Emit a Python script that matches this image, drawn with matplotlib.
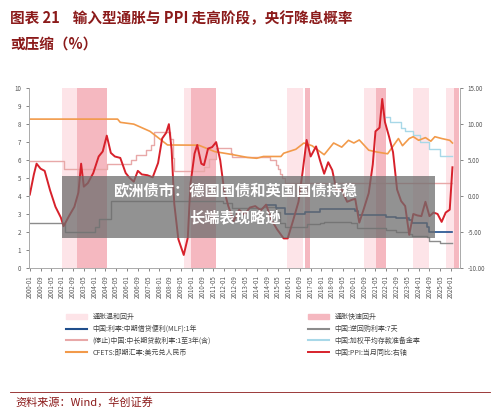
import matplotlib
matplotlib.use("Agg")
import matplotlib.pyplot as plt
from matplotlib.patches import Rectangle
import numpy as np

plt.rcParams['font.family'] = ['Noto Sans CJK SC', 'DejaVu Sans']

def dy(s):
    y, m = s.split('-')
    return int(y) + (int(m) - 1) / 12

# PPI yoy (right axis)
ppi_t = ['2000-01','2000-04','2000-06','2000-09','2000-12','2001-04','2001-08','2001-12','2002-02','2002-06','2002-10','2003-01','2003-03','2003-05','2003-08','2003-12','2004-04','2004-07','2004-10','2005-01','2005-04','2005-08','2005-12','2006-03','2006-06','2006-09','2006-12','2007-04','2007-08','2007-12','2008-03','2008-06','2008-08','2008-10','2008-12','2009-03','2009-07','2009-10','2009-12','2010-03','2010-05','2010-08','2010-10','2011-01','2011-04','2011-07','2011-10','2012-01','2012-04','2012-08','2012-12','2013-04','2013-08','2013-12','2014-04','2014-08','2014-12','2015-04','2015-09','2015-12','2016-04','2016-08','2016-11','2017-02','2017-05','2017-09','2017-12','2018-03','2018-06','2018-09','2018-12','2019-04','2019-08','2019-12','2020-02','2020-05','2020-08','2020-12','2021-03','2021-05','2021-08','2021-10','2021-12','2022-03','2022-06','2022-09','2022-12','2023-03','2023-06','2023-09','2023-12','2024-03','2024-06','2024-09','2024-12','2025-03','2025-06','2025-09','2025-12','2026-02']
ppi_v = [0.2,3.0,4.5,3.8,3.5,0.8,-1.5,-3.0,-4.2,-2.8,-1.5,0.5,4.5,1.3,1.8,3.2,5.5,6.2,8.4,6.0,5.5,5.3,3.2,2.5,2.0,3.5,3.0,2.9,2.6,4.6,8.0,8.8,10.0,6.5,-1.1,-6.0,-8.2,-5.8,1.7,5.9,7.1,4.5,4.3,6.6,6.8,7.5,5.0,0.7,-1.4,-3.5,-1.9,-2.6,-1.6,-1.4,-2.0,-1.2,-3.3,-4.6,-5.9,-5.9,-3.4,-0.8,3.3,7.8,5.5,6.9,4.9,3.1,4.7,3.6,0.9,0.9,-0.8,-0.5,-0.4,-3.7,-2.0,0.4,4.4,9.0,9.5,13.5,10.3,8.3,6.1,0.9,-0.7,-1.4,-5.4,-2.5,-2.7,-2.8,-0.8,-2.8,-2.3,-2.5,-3.6,-2.3,-1.9,4.0]

# USD/CNY
fx_t = ['2000-01','2005-06','2005-08','2006-06','2007-06','2008-07','2010-06','2011-06','2012-06','2013-06','2014-01','2014-06','2015-07','2015-09','2016-06','2016-12','2017-06','2018-03','2018-10','2019-04','2019-09','2020-01','2020-05','2020-12','2021-06','2022-02','2022-10','2023-01','2023-06','2023-09','2024-01','2024-06','2024-10','2025-01','2025-06','2025-12','2026-02']
fx_v = [8.28,8.28,8.10,8.00,7.60,6.84,6.83,6.47,6.32,6.15,6.10,6.20,6.20,6.38,6.60,6.95,6.80,6.30,6.95,6.72,7.10,6.95,7.12,6.55,6.45,6.35,7.20,6.80,7.20,7.30,7.10,7.25,7.05,7.30,7.20,7.10,6.95]

# 7-day reverse repo (step)
rr_t = ['2000-01','2002-03','2004-01','2004-04','2005-01','2011-12','2012-07','2014-06','2015-03','2015-06','2015-10','2017-02','2017-12','2018-03','2019-11','2020-03','2022-01','2022-08','2023-06','2023-08','2024-07','2024-09','2025-05','2026-02']
rr_v = [2.5,2.0,2.3,2.7,3.7,3.6,3.35,3.4,3.1,2.5,2.25,2.45,2.5,2.55,2.5,2.2,2.1,2.0,1.9,1.8,1.7,1.5,1.4,1.4]

# MLF 1Y (step)
mlf_t = ['2014-09','2015-03','2015-10','2017-01','2017-12','2018-03','2019-11','2020-02','2020-04','2022-01','2022-08','2023-06','2023-08','2024-07','2024-09','2026-02']
mlf_v = [3.5,3.35,3.0,3.1,3.25,3.3,3.25,3.15,2.95,2.85,2.75,2.65,2.5,2.3,2.0,2.0]

# 1-3Y lending rate (stopped, step)
lr_t = ['2000-01','2002-02','2004-10','2006-04','2006-08','2007-03','2007-07','2007-09','2008-09','2008-11','2008-12','2010-10','2011-02','2011-07','2012-06','2012-07','2014-11','2015-03','2015-05','2015-06','2015-08','2015-10','2026-02']
lr_v = [5.94,5.49,5.76,6.03,6.30,6.57,6.84,7.56,7.20,6.12,5.40,5.60,6.06,6.65,6.40,6.15,6.00,5.75,5.50,5.25,5.00,4.75,4.75]

# RRR weighted (step)
rrr_t = ['2021-12','2022-04','2022-12','2023-03','2023-09','2024-02','2024-09','2025-05','2026-02']
rrr_v = [8.4,8.1,7.8,7.6,7.4,7.0,6.6,6.2,6.2]

mild = [(2002.0,2002.9),(2009.5,2009.95),(2015.85,2016.85),(2020.6,2021.36),(2023.65,2024.64),(2025.7,2026.3)]
fast = [(2002.9,2004.77),(2009.95,2011.5),(2016.97,2017.28),(2021.36,2021.98),(2026.2,2026.5)]

tick_labels = []
y, m = 2000, 1
while y * 12 + m <= 2026 * 12 + 1:
    tick_labels.append(f"{y}-{m:02d}")
    m += 8
    while m > 12:
        m -= 12; y += 1

fig = plt.figure(figsize=(5, 4.16), dpi=100)
ax = fig.add_axes([0.058, 0.356, 0.862, 0.432])
for a, b in mild:
    ax.axvspan(a, b, color='#fde4e8', lw=0, zorder=0)
for a, b in fast:
    ax.axvspan(a, b, color='#f5b8c0', lw=0, zorder=0)

def T(lst): return [dy(s) for s in lst]
ax.plot(T(lr_t), lr_v, drawstyle='steps-post', color='#e8a8a8', lw=1.0)
ax.plot(T(rr_t), rr_v, drawstyle='steps-post', color='#8c8c8c', lw=1.0)
ax.plot(T(mlf_t), mlf_v, drawstyle='steps-post', color='#1f4e8c', lw=1.2)
ax.plot(T(rrr_t), rrr_v, drawstyle='steps-post', color='#a8d8e8', lw=1.0)
ax.plot(T(fx_t), fx_v, color='#f29a4a', lw=1.2)
ax2 = ax.twinx()
ax2.plot(T(ppi_t), ppi_v, color='#d7212b', lw=1.4)

ax.set_xlim(1999.95, 2026.55)
ax.set_ylim(0, 10)
ax.set_yticks(range(0, 11))
ax2.set_ylim(-10, 15)
ax2.set_yticks(range(-10, 16, 5))
ax2.set_yticklabels([f"{v:.2f}" for v in range(-10, 16, 5)])
ax.set_xticks(T(tick_labels))
ax.set_xticklabels(tick_labels, rotation=90)
for a in (ax, ax2):
    a.tick_params(labelsize=4.5, colors='#555555', length=2, width=0.5)
    a.spines['top'].set_visible(False)
    for s in ('left', 'right', 'bottom'):
        a.spines[s].set_color('#aaaaaa'); a.spines[s].set_linewidth(0.6)

from matplotlib.lines import Line2D
from matplotlib.patches import Patch
handles = [Patch(color='#fde4e8'), Line2D([], [], color='#1f4e8c'),
           Line2D([], [], color='#e8a8a8'), Line2D([], [], color='#f29a4a'),
           Patch(color='#f5b8c0'), Line2D([], [], color='#8c8c8c'),
           Line2D([], [], color='#a8d8e8'), Line2D([], [], color='#d7212b', lw=1.4)]
labels = ['通胀温和回升', '中国:利率:中期借贷便利(MLF):1年', '(停止)中国:中长期贷款利率:1至3年(含)',
          'CFETS:即期汇率:美元兑人民币', '通胀快速回升', '中国:逆回购利率:7天',
          '中国:加权平均存款准备金率', '中国:PPI:当月同比:右轴']
fig.legend(handles, labels, loc='upper left', bbox_to_anchor=(0.12, 0.262), ncol=2,
           fontsize=5, frameon=False, columnspacing=14, handlelength=3, labelspacing=0.55,
           labelcolor='#444444')

title_c = '#8b1a1a'
fig.text(0.02, 0.975, '图表 21    输入型通胀与 PPI 走高阶段，央行降息概率', fontsize=10.5,
         fontweight='bold', color=title_c, va='top')
fig.text(0.02, 0.915, '或压缩（%）', fontsize=10.5, fontweight='bold', color=title_c, va='top')
fig.add_artist(Line2D([0.02, 0.98], [0.058, 0.058], color='#8b1a1a', lw=0.6))
fig.text(0.03, 0.045, '资料来源：Wind，华创证券', fontsize=8, style='italic', color=title_c, va='top')

fig.add_artist(Rectangle((0.124, 0.428), 0.746, 0.149, transform=fig.transFigure,
                         color='#6e6e6e', alpha=0.75, lw=0, zorder=10))
fig.text(0.47, 0.543, '欧洲债市：德国国债和英国国债持稳', fontsize=11, fontweight='bold',
         color='white', ha='center', va='center', zorder=11)
fig.text(0.47, 0.478, '长端表现略逊', fontsize=11, fontweight='bold',
         color='white', ha='center', va='center', zorder=11)

fig.savefig('out.png', dpi=100)
